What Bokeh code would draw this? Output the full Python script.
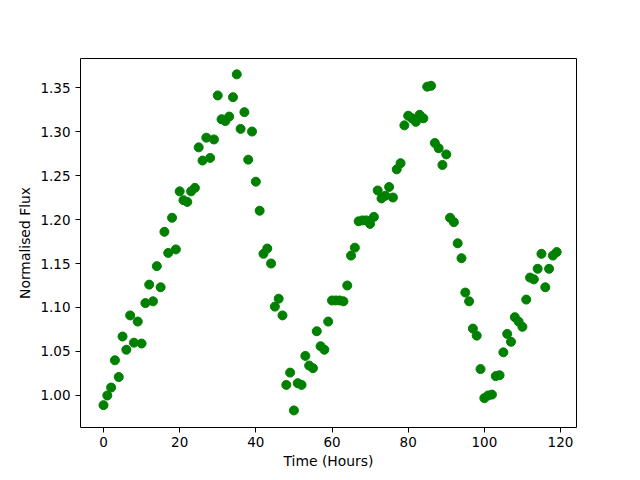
from bokeh.plotting import figure
from bokeh.models import Range1d, FixedTicker, NumeralTickFormatter
from bokeh.embed import file_html
from bokeh.resources import INLINE

time_hours = list(range(120))
flux = [
    0.989, 1.000, 1.009, 1.040, 1.021, 1.067, 1.052, 1.091, 1.060, 1.084,
    1.059, 1.105, 1.126, 1.107, 1.147, 1.123, 1.186, 1.162, 1.202, 1.166,
    1.232, 1.222, 1.220, 1.232, 1.236, 1.282, 1.267, 1.293, 1.270, 1.291,
    1.341, 1.314, 1.312, 1.317, 1.339, 1.365, 1.303, 1.322, 1.268, 1.300,
    1.243, 1.210, 1.161, 1.167, 1.150, 1.101, 1.110, 1.091, 1.012, 1.026,
    0.983, 1.014, 1.012, 1.045, 1.034, 1.031, 1.073, 1.056, 1.052, 1.084,
    1.108, 1.108, 1.108, 1.107, 1.125, 1.159, 1.168, 1.198, 1.199, 1.199,
    1.195, 1.203, 1.233, 1.224, 1.227, 1.237, 1.225, 1.257, 1.264, 1.307,
    1.318, 1.315, 1.311, 1.319, 1.315, 1.351, 1.352, 1.287, 1.281, 1.262,
    1.274, 1.202, 1.197, 1.173, 1.156, 1.117, 1.107, 1.076, 1.068, 1.030,
    0.997, 1.000, 1.001, 1.022, 1.023, 1.049, 1.070, 1.061, 1.089, 1.084,
    1.078, 1.109, 1.134, 1.132, 1.144, 1.161, 1.123, 1.144, 1.159, 1.163,
]
x_ticks = [0, 20, 40, 60, 80, 100, 120]
y_ticks = [1.00, 1.05, 1.10, 1.15, 1.20, 1.25, 1.30, 1.35]

p = figure(width=632, height=472, output_backend="svg", toolbar_location=None,
           x_range=Range1d(-6.04, 124.2), y_range=Range1d(0.9636, 1.383),
           min_border_left=80, min_border_right=56, min_border_top=58, min_border_bottom=45)

p.scatter(time_hours, flux, size=9, color="#008000", line_color="#008000")

p.xgrid.visible = False
p.ygrid.visible = False
p.outline_line_color = "black"
p.outline_line_width = 1
p.outline_line_alpha = 1

p.xaxis.ticker = FixedTicker(ticks=x_ticks)
p.yaxis.ticker = FixedTicker(ticks=y_ticks)
p.yaxis.formatter = NumeralTickFormatter(format="0.00")
p.xaxis.axis_label = "Time (Hours)"
p.yaxis.axis_label = "Normalised Flux"
for ax in (p.xaxis, p.yaxis):
    ax.axis_line_color = None
    ax.major_tick_in = 0
    ax.major_tick_out = 5
    ax.minor_tick_line_color = None
    ax.major_label_text_font = "DejaVu Sans"
    ax.major_label_text_font_size = "13.5px"
    ax.major_label_text_color = "black"
    ax.axis_label_text_font = "DejaVu Sans"
    ax.axis_label_text_font_size = "13.9px"
    ax.axis_label_text_font_style = "normal"
    ax.axis_label_text_color = "black"
    ax.major_tick_line_color = "black"
p.xaxis.axis_label_standoff = 3
p.xaxis.major_label_standoff = 4
p.yaxis.axis_label_standoff = 4

open("out.html", "w").write(file_html(p, INLINE))
